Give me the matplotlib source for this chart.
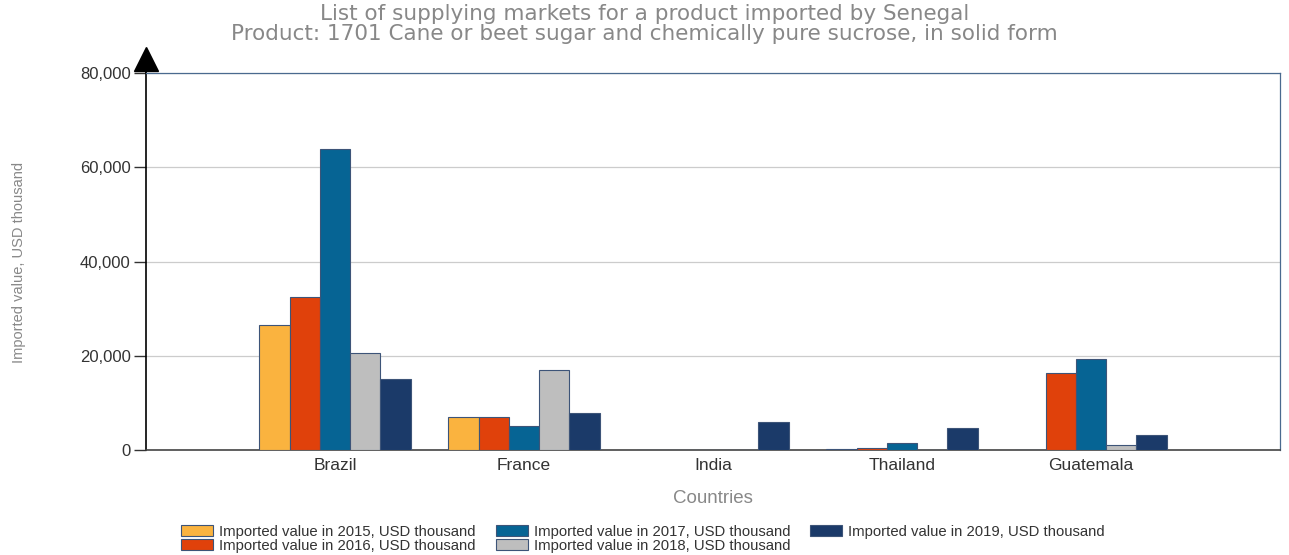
import numpy as np
import matplotlib.pyplot as plt
from matplotlib.ticker import FuncFormatter

plt.rcParams['font.family'] = ['Liberation Sans', 'DejaVu Sans']

countries = ["Brazil", "France", "India", "Thailand", "Guatemala"]
years = ["2015", "2016", "2017", "2018", "2019"]
v2015 = [26500, 7000, 0, 200, 0]
v2016 = [32500, 7000, 0, 350, 16300]
v2017 = [63900, 5100, 0, 1500, 19300]
v2018 = [20600, 17000, 0, 0, 1100]
v2019 = [15100, 7800, 5900, 4700, 3200]
series = [v2015, v2016, v2017, v2018, v2019]
colors = ["#FAB33F", "#E0410B", "#066494", "#BEBEBE", "#1B3A69"]

fig = plt.figure(figsize=(12.89, 5.55), dpi=100)
ax = fig.add_axes([0.1133, 0.189, 0.8797, 0.6795])

x = np.arange(1, len(countries) + 1)
w = 0.16
for i, vals in enumerate(series):
    ax.bar(x + (i - 2) * w, vals, width=w, color=colors[i], edgecolor="#3d5478",
           linewidth=0.8, label="Imported value in %s, USD thousand" % years[i], zorder=3)

ax.set_xlim(0, 6)
ax.set_ylim(0, 80000)
ax.set_yticks([0, 20000, 40000, 60000, 80000])
ax.yaxis.set_major_formatter(FuncFormatter(lambda v, p: "{:,.0f}".format(v)))
ax.set_xticks(x)
ax.set_xticklabels(countries)
ax.tick_params(axis="x", length=0, labelsize=12.5, colors="#333333", pad=6)
ax.tick_params(axis="y", length=9, width=1, labelsize=12, colors="#333333", pad=2)
ax.grid(axis="y", color="#cccccc", linewidth=0.9, zorder=0)

for s in ["top", "right"]:
    ax.spines[s].set_color("#4a6a8f")
    ax.spines[s].set_linewidth(0.9)
ax.spines["bottom"].set_color("#444444")
ax.spines["bottom"].set_linewidth(1.2)
ax.spines["left"].set_color("black")
ax.spines["left"].set_linewidth(1.2)

# arrow on the y axis
ax.plot([0, 0], [1.0, 1.03], color="black", lw=1.2, transform=ax.transAxes, clip_on=False)
ax.plot(0, 1.037, marker="^", markersize=17, color="black", transform=ax.transAxes, clip_on=False)

ax.set_xlabel("Countries", fontsize=13.5, color="#888888", labelpad=12)
fig.text(0.015, 0.528, "Imported value, USD thousand", rotation=90, fontsize=10.5,
         color="#888888", ha="center", va="center")

fig.text(0.5, 0.975, "List of supplying markets for a product imported by Senegal",
         ha="center", va="center", fontsize=15.5, color="#888888", family="DejaVu Sans")
fig.text(0.5, 0.938, "Product: 1701 Cane or beet sugar and chemically pure sucrose, in solid form",
         ha="center", va="center", fontsize=15.5, color="#888888", family="DejaVu Sans")

handles, labels = ax.get_legend_handles_labels()
fig.legend(handles, labels, loc="center", bbox_to_anchor=(0.499, 0.0295), ncol=3, frameon=False,
           fontsize=10.7, handlelength=2.15, handleheight=0.75, columnspacing=1.35,
           labelspacing=0.0, handletextpad=0.4, labelcolor="#333333")

fig.savefig("out.png", dpi=100)
